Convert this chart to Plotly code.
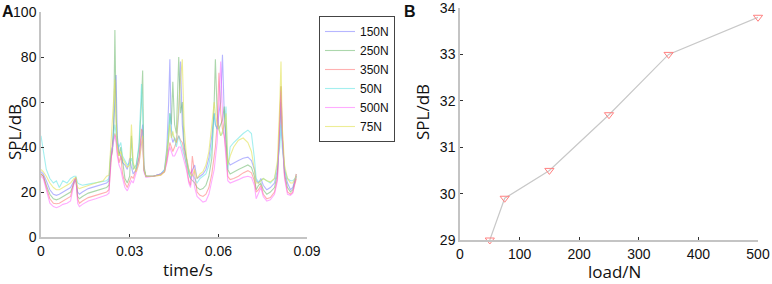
import plotly.graph_objects as go

# ---------------- Panel A data (time series, SPL/dB) ----------------
time_s = [0.0000, 0.0008, 0.0018, 0.0030, 0.0042, 0.0052, 0.0062, 0.0074, 0.0088, 0.0100,
          0.0112, 0.0118, 0.0124, 0.0130, 0.0140, 0.0160, 0.0185, 0.0210, 0.0222, 0.0230,
          0.0236, 0.0242, 0.0246, 0.0250, 0.0254, 0.0258, 0.0264, 0.0270, 0.0276, 0.0284,
          0.0292, 0.0300, 0.0306, 0.0312, 0.0322, 0.0332, 0.0340, 0.0344, 0.0348, 0.0355,
          0.0380, 0.0405, 0.0418, 0.0426, 0.0432, 0.0436, 0.0441, 0.0446, 0.0452, 0.0458,
          0.0466, 0.0472, 0.0478, 0.0484, 0.0492, 0.0500, 0.0506, 0.0512, 0.0520, 0.0528,
          0.0538, 0.0548, 0.0558, 0.0568, 0.0578, 0.0586, 0.0590, 0.0596, 0.0602, 0.0608,
          0.0614, 0.0620, 0.0626, 0.0632, 0.0640, 0.0652, 0.0668, 0.0684, 0.0700, 0.0712,
          0.0722, 0.0728, 0.0736, 0.0744, 0.0752, 0.0764, 0.0776, 0.0790, 0.0800, 0.0808,
          0.0812, 0.0816, 0.0824, 0.0834, 0.0844, 0.0852, 0.0860, 0.0864]

spl_150N = [29, 28, 25, 21, 19, 18.5, 19, 20, 21, 22,
            25, 26, 20, 19, 20, 21.5, 22.5, 23.5, 24, 25,
            36, 40, 48, 60, 72, 45, 38, 36, 33, 32,
            30, 35, 31, 28, 30, 35, 45, 50, 30, 27,
            27, 28, 30, 40, 60, 79, 45, 42, 44, 42,
            55, 78, 50, 40, 35, 30, 28, 30, 32, 26,
            27, 28, 30, 35, 45, 55, 50, 48, 55, 60,
            81, 55, 42, 34, 32, 33, 34, 35, 35.5, 34,
            30, 25, 24, 26, 23, 21, 22, 24, 30, 45,
            60, 45, 30, 24, 21, 22, 26, 28]
spl_250N = [28, 27, 23, 19, 17, 16.5, 17, 18, 19, 20,
            24, 25.5, 18, 17, 18, 19.5, 20.5, 21.5, 22, 23,
            35, 38, 50, 92, 55, 42, 36, 40, 33, 26,
            24, 27, 45, 30, 32, 40, 60, 74, 32, 27,
            27, 28, 29, 36, 44, 55, 50, 69, 50, 46,
            80, 55, 60, 42, 35, 28, 26, 25, 24, 22,
            21, 21.5, 23, 27, 35, 60, 79, 55, 48, 50,
            52, 58, 45, 30, 28, 29, 30, 31, 32, 31,
            27, 21, 23, 24, 21, 19, 20, 22, 28, 50,
            67, 45, 28, 22, 20, 21, 25, 27]
spl_350N = [28, 27, 22, 17, 15, 14.8, 15, 16, 17, 18,
            25, 26.5, 17, 15, 16, 17.5, 18.5, 19.5, 20, 21,
            34, 42, 44, 46, 44, 38, 33, 36, 28, 24,
            22, 25, 27, 26, 30, 36, 48, 47, 30, 27,
            27, 27.5, 29, 34, 40, 42, 40, 38, 40, 42,
            45, 43, 42, 38, 32, 25, 23, 36, 28, 20,
            18.5, 18, 19, 22, 28, 35, 40, 50, 73, 55,
            48, 45, 38, 27, 25.5, 26, 27, 28.5, 29.5, 28.5,
            25, 20, 21, 23, 19, 17, 17.5, 20, 26, 55,
            67, 48, 27, 20, 19, 20, 24.5, 26]
spl_50N = [45, 38, 30, 26, 24, 25, 22, 25, 24, 26,
           27, 27, 24, 23.5, 23, 23.5, 24, 24.5, 25, 26,
           38, 40, 44, 50, 46, 42, 40, 42, 36, 34,
           32, 33, 35, 32, 30, 42, 68, 55, 30, 27,
           27, 28, 30, 38, 50, 55, 48, 45, 44, 40,
           45, 42, 40, 36, 32, 28, 26, 28, 26, 24,
           26, 27, 28, 32, 40, 55, 50, 48, 48, 45,
           46, 50, 58, 30, 40, 42, 44, 46, 47.5, 46,
           35, 26, 24.5, 25, 26, 25, 24, 26, 32, 40,
           50, 40, 30, 26, 25, 25, 26, 27]
spl_500N = [27, 26, 21, 15, 13.5, 13, 13.5, 14.5, 15, 16,
            24, 26, 15, 13.5, 14.5, 16, 17, 18, 18.7, 19.5,
            33, 40, 42, 45, 42, 36, 32, 30, 26, 22,
            20.5, 23, 25, 24, 28, 33, 42, 44, 29, 26.5,
            27, 28, 29, 33, 38, 40, 38, 36, 36, 38,
            40, 40, 37, 35, 30, 24, 22, 30, 22, 18,
            16.5, 15.5, 16, 19, 25, 30, 35, 42, 60, 78,
            55, 45, 35, 25, 24, 24.5, 25.5, 26.5, 27, 26.5,
            23, 17, 20, 22, 18, 16, 16.5, 19, 25, 50,
            65, 45, 26, 19, 18.5, 19.5, 25, 28]
spl_75N = [30, 29, 27, 24, 22, 21, 21, 22, 23, 24,
           26, 26.5, 22, 21.5, 22, 23, 24, 25, 27, 27.5,
           40, 48, 60, 70, 50, 40, 36, 38, 35, 33,
           31, 32, 50, 33, 29, 33, 40, 45, 30, 27,
           27, 27.5, 29, 40, 45, 50, 44, 47, 43, 42,
           60, 70, 79, 50, 36, 30, 28, 27, 30, 26,
           28, 29, 32, 38, 50, 60, 55, 50, 48, 45,
           47, 50, 55, 32, 36, 40, 43, 44, 42, 38,
           30, 24, 24, 25, 26, 25, 24.5, 26, 34, 60,
           78, 50, 32, 26, 24, 24, 26, 28]

series_names = ["150N", "250N", "350N", "50N", "500N", "75N"]
series_values = [spl_150N, spl_250N, spl_350N, spl_50N, spl_500N, spl_75N]
series_colors = ["rgba(110,110,255,0.5)", "rgba(90,175,90,0.5)", "rgba(255,100,100,0.5)",
                 "rgba(90,225,225,0.55)", "rgba(255,90,255,0.5)", "rgba(225,225,80,0.6)"]

# ---------------- Panel B data (load vs SPL) ----------------
load_N = [50, 75, 150, 250, 350, 500]
spl_mean = [29.0, 29.9, 30.5, 31.7, 33.0, 33.8]

W, H = 772, 284
ML, MR, MT, MB = 30, 8, 4, 40
PW, PH = W - ML - MR, H - MT - MB

def px_x(p):
    return (p - ML) / PW

def px_y(p):
    return 1 - (p - MT) / PH

fig = go.Figure()
for name, vals, col in zip(series_names, series_values, series_colors):
    fig.add_trace(go.Scatter(x=time_s, y=vals, mode="lines", name=name,
                             line=dict(color=col, width=1.1), xaxis="x", yaxis="y"))

fig.add_trace(go.Scatter(x=load_N, y=spl_mean, mode="lines+markers", showlegend=False,
                         line=dict(color="#c8c8c8", width=1.2),
                         marker=dict(symbol="triangle-down-open", size=8, color="#ff8080",
                                     line=dict(width=1)),
                         xaxis="x2", yaxis="y2", cliponaxis=False))

tickfont = dict(family="Liberation Sans, Arial", size=14, color="#111")
axis_common = dict(showline=True, linecolor="#c4c4c4", linewidth=1.5, showgrid=False,
                   zeroline=False, ticks="inside", ticklen=3, tickcolor="#333", tickwidth=1,
                   tickfont=tickfont, mirror=False, automargin=False, ticklabeloverflow="allow")

fig.update_layout(
    template="none",
    width=W, height=H, margin=dict(l=ML, r=MR, t=MT, b=MB, autoexpand=False),
    paper_bgcolor="white", plot_bgcolor="white",
    xaxis=dict(domain=[px_x(41), px_x(307)], range=[0, 0.09], tickvals=[0, 0.03, 0.06, 0.09],
               ticktext=["0", "0.03", "0.06", "0.09"], anchor="y", **axis_common),
    yaxis=dict(domain=[px_y(237), px_y(12)], range=[0, 100], tickvals=[0, 20, 40, 60, 80, 100],
               anchor="x", **axis_common),
    xaxis2=dict(domain=[px_x(460), px_x(758)], range=[0, 500], tickvals=[0, 100, 200, 300, 400, 500],
                anchor="y2", **axis_common),
    yaxis2=dict(domain=[px_y(240), px_y(8)], range=[29, 34], tickvals=[29, 30, 31, 32, 33, 34],
                anchor="x2", **axis_common),
    legend=dict(x=px_x(319), y=px_y(16), xanchor="left", yanchor="top",
                bordercolor="#444", borderwidth=1, bgcolor="white",
                font=dict(family="Liberation Sans, Arial", size=12, color="#111"),
                tracegroupgap=0, itemwidth=30),
    showlegend=True,
)

title_font = dict(family="Open Sans, Noto Sans", size=17, color="#111")
def note(text, x, y, font, angle=0):
    fig.add_annotation(text=text, x=px_x(x), y=px_y(y), xref="paper", yref="paper",
                       xanchor="center", yanchor="middle", textangle=angle,
                       showarrow=False, font=font)

note("SPL/dB", 14, 132, title_font, -90)
note("time/s", 188, 269, title_font)
note("SPL/dB", 423, 112, title_font, -90)
note("load/N", 614, 271, title_font)
panel_font = dict(family="Liberation Sans, Arial", size=16, color="#111")
note("<b>A</b>", 8, 12, panel_font)
note("<b>B</b>", 410, 12, panel_font)

fig.write_html("out.html", config={"displayModeBar": False},
               post_script="document.body.style.margin='0';document.body.style.overflow='hidden';")
